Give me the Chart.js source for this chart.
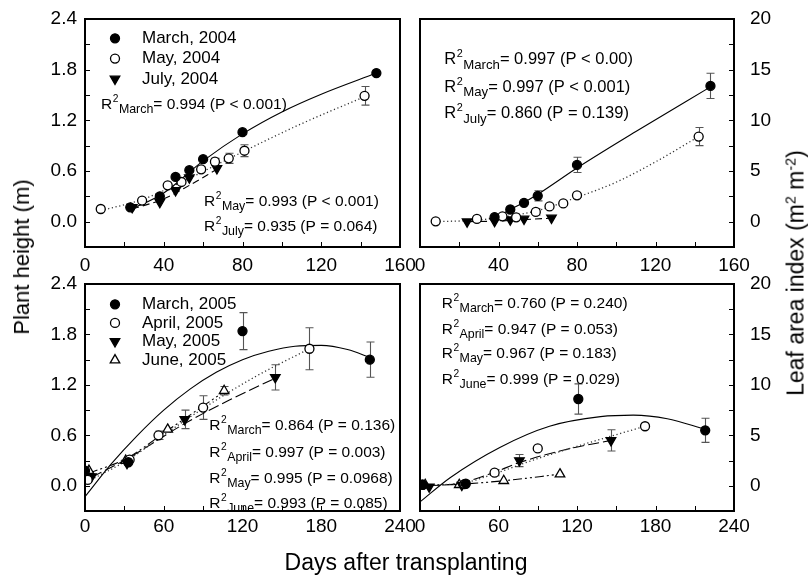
<!DOCTYPE html>
<html>
<head>
<meta charset="utf-8">
<script src="https://cdn.jsdelivr.net/npm/chart.js@4.4.1/dist/chart.umd.min.js"></script>
<style>
  body { margin: 0; background: #fff; }
  #fig { position: relative; width: 808px; height: 581px; overflow: hidden; font-family: 'Liberation Sans', Arial, sans-serif; color: #000; }
  #fig canvas { position: absolute; }
  .ttl { position: absolute; white-space: nowrap; transform: translate(-50%, -50%); }
  .ttl.vert { transform: translate(-50%, -50%) rotate(-90deg); }
  .ttl sup { font-size: 0.62em; vertical-align: 0.55em; line-height: 0; }
</style>
</head>
<body>
<div id="fig">
  <canvas id="h04"></canvas>
  <canvas id="lai04"></canvas>
  <canvas id="h05"></canvas>
  <canvas id="lai05"></canvas>
  <div class="ttl vert" style="left:22px; top:257px; font-size:22px;">Plant height (m)</div>
  <div class="ttl vert" style="left:796px; top:273px; font-size:23px;">Leaf area index (m<sup>2</sup> m<sup>-2</sup>)</div>
  <div class="ttl" style="left:406px; top:562px; font-size:23px;">Days after transplanting</div>
</div>
<script>
const FONT = "'Liberation Sans', Arial, sans-serif";

// axis ticks
const ticksDays04 = [0, 40, 80, 120, 160];
const ticksDays05 = [0, 60, 120, 180, 240];
const ticksHeight = [0, 0.6, 1.2, 1.8, 2.4];
const ticksLai = [0, 5, 10, 15, 20];

// 2004 plant height (m)
const marDays04 = [23, 38, 46, 53, 60, 80, 148];
const marHeight04 = [0.17, 0.30, 0.53, 0.61, 0.74, 1.06, 1.76];
const mayDays04 = [8, 29, 42, 49, 59, 66, 73, 81, 142];
const mayHeight04 = [0.15, 0.25, 0.43, 0.47, 0.62, 0.71, 0.75, 0.84, 1.49];
const mayHeightErr04 = [0, 0, 0, 0, 0.03, 0.04, 0.06, 0.07, 0.11];
const julDays04 = [24, 38, 46, 53, 67];
const julHeight04 = [0.17, 0.23, 0.37, 0.52, 0.63];

// 2004 fitted curves, height
const marFitDays04 = [23, 40, 60, 80, 100, 120, 148];
const marFitHeight04 = [0.14, 0.34, 0.72, 1.04, 1.30, 1.51, 1.76];
const mayFitDays04 = [8, 30, 50, 70, 90, 110, 142];
const mayFitHeight04 = [0.13, 0.27, 0.48, 0.71, 0.94, 1.16, 1.48];
const julFitDays04 = [24, 40, 53, 67];
const julFitHeight04 = [0.15, 0.27, 0.43, 0.62];

// 2004 leaf area index
const marLaiDays04 = [38, 46, 53, 60, 80, 148];
const marLai04 = [0.45, 1.2, 1.86, 2.55, 5.6, 13.4];
const marLaiErr04 = [0, 0, 0, 0.5, 0.75, 1.25];
const mayLaiDays04 = [8, 29, 42, 49, 59, 66, 73, 80, 142];
const mayLai04 = [0.03, 0.27, 0.53, 0.43, 0.96, 1.5, 1.8, 2.6, 8.4];
const mayLaiErr04 = [0, 0, 0, 0, 0.3, 0, 0, 0.2, 0.9];
const julLai04 = [0, 0.05, 0.2, 0.27, 0.37];

// 2004 fitted curves, LAI
const marFitDays04b = [38, 46, 53, 60, 80, 110, 148];
const marFitLai04 = [0.3, 1.2, 1.9, 2.7, 5.3, 8.9, 13.3];
const mayFitDays04b = [8, 29, 42, 60, 80, 100, 120, 142];
const mayFitLai04 = [0, 0.15, 0.45, 1.1, 2.4, 3.9, 5.9, 8.4];
const julFitDays04b = [25, 38, 53, 67];
const julFitLai04 = [0, 0.05, 0.2, 0.35];

// 2005 plant height (m)
const marDays05 = [0, 33, 120, 217];
const marHeight05 = [0.18, 0.28, 1.84, 1.50];
const marHeightErr05 = [0, 0, 0.22, 0.21];
const aprDays05 = [2, 34, 56, 90, 171];
const aprHeight05 = [0.07, 0.31, 0.60, 0.93, 1.63];
const aprHeightErr05 = [0, 0, 0.05, 0.14, 0.25];
const mayDays05 = [5, 32, 76, 145];
const mayHeight05 = [0.11, 0.27, 0.79, 1.29];
const mayHeightErr05 = [0, 0, 0.11, 0.15];
const junDays05 = [3, 31, 63, 106];
const junHeight05 = [0.18, 0.30, 0.67, 1.13];
const junHeightErr05 = [0, 0, 0, 0.05];

// 2005 fitted curves, height
const marFitDays05 = [0, 20, 40, 60, 80, 100, 120, 140, 160, 180, 200, 218];
const marFitHeight05 = [-0.13, 0.26, 0.60, 0.90, 1.15, 1.35, 1.50, 1.60, 1.66, 1.67, 1.62, 1.52];
const aprFitDays05 = [2, 34, 56, 90, 130, 171];
const aprFitHeight05 = [0.05, 0.32, 0.56, 0.92, 1.30, 1.63];
const mayFitDays05 = [5, 32, 76, 110, 145];
const mayFitHeight05 = [0.10, 0.32, 0.74, 1.02, 1.28];
const junFitDays05 = [3, 31, 63, 106];
const junFitHeight05 = [0.15, 0.32, 0.66, 1.12];

// 2005 leaf area index
const marLaiDays05 = [2, 35, 121, 218];
const marLai05 = [0.1, 0.2, 8.6, 5.5];
const marLaiErr05 = [0, 0, 1.5, 1.2];
const aprLaiDays05 = [2, 34, 57, 90, 172];
const aprLai05 = [0.1, 0.17, 1.3, 3.7, 5.9];
const aprLaiErr05 = [0, 0, 0.3, 0, 0];
const mayLaiDays05 = [7, 32, 76, 146];
const mayLai05 = [-0.1, 0.07, 2.5, 4.5];
const mayLaiErr05 = [0, 0, 0.6, 1.05];
const junLaiDays05 = [4, 30, 64, 107];
const junLai05 = [0.1, 0.1, 0.5, 1.15];

// 2005 fitted curves, LAI
const marFitDays05b = [0, 23, 61, 99, 138, 163, 189, 218];
const marFitLai05 = [-1.6, 0.8, 3.8, 5.9, 6.85, 7.0, 6.65, 5.6];
const aprFitDays05b = [2, 34, 57, 90, 130, 172];
const aprFitLai05 = [0.05, 0.3, 1.2, 2.7, 4.3, 5.9];
const mayFitDays05b = [7, 30, 57, 76, 110, 146];
const mayFitLai05 = [0, 0.25, 1.35, 2.3, 3.55, 4.5];
const junFitDays05b = [4, 30, 64, 107];
const junFitLai05 = [0.05, 0.15, 0.5, 1.15];

// marker and line styles
const FILLED_DOT = { shape: 'circle', fill: '#000' };
const OPEN_DOT = { shape: 'circle', fill: '#fff' };
const FILLED_DOWN = { shape: 'triangle', fill: '#000', down: true };
const OPEN_UP = { shape: 'triangle', fill: '#fff' };
const SOLID = [];
const DOTTED = [1.2, 2.6];
const DASHED = [7, 4];
const LONG_DASH = [11, 4];
const DASH_DOT_DOT = [9, 3, 2, 3, 2, 3];

const pts = (xs, ys) => xs.map((x, i) => ({ x, y: ys[i] }));

function marks(xs, ys, style, err) {
  return {
    data: pts(xs, ys),
    showLine: false,
    order: 0,
    pointStyle: style.shape,
    rotation: style.down ? 180 : 0,
    pointRadius: style.shape === 'circle' ? 4.5 : 5.5,
    backgroundColor: style.fill,
    borderColor: '#000',
    pointBorderWidth: 1.3,
    errorBars: err || null,
  };
}

function curve(xs, ys, dash) {
  return {
    data: pts(xs, ys),
    showLine: true,
    pointRadius: 0,
    borderColor: dash === DOTTED ? '#333' : '#000',
    borderWidth: dash === DOTTED ? 1.3 : 1.1,
    borderDash: dash,
    cubicInterpolationMode: 'monotone',
    order: 1,
  };
}

function drawMarker(ctx, style, x, y) {
  ctx.save();
  ctx.lineWidth = 1.3;
  ctx.strokeStyle = '#000';
  ctx.fillStyle = style.fill;
  ctx.beginPath();
  if (style.shape === 'circle') {
    ctx.arc(x, y, 4.5, 0, Math.PI * 2);
  } else {
    const r = 5.5, s = style.down ? -1 : 1;
    ctx.moveTo(x, y - s * r);
    ctx.lineTo(x + r * 0.866, y + s * r * 0.5);
    ctx.lineTo(x - r * 0.866, y + s * r * 0.5);
    ctx.closePath();
  }
  ctx.fill();
  ctx.stroke();
  ctx.restore();
}

// R² label: "R" + superscript 2 + subscript month + rest
function drawR2(ctx, x, yMid, size, sub, rest) {
  const y = yMid + size * 0.36;
  ctx.textBaseline = 'alphabetic';
  ctx.textAlign = 'left';
  ctx.font = `${size}px ${FONT}`;
  ctx.fillText('R', x, y);
  x += ctx.measureText('R').width + 0.5;
  ctx.font = `${size * 0.66}px ${FONT}`;
  ctx.fillText('2', x, y - size * 0.45);
  x += ctx.measureText('2').width + 0.5;
  ctx.font = `${size * 0.8}px ${FONT}`;
  ctx.fillText(sub, x, y + size * 0.27);
  x += ctx.measureText(sub).width;
  ctx.font = `${size}px ${FONT}`;
  ctx.fillText(rest, x, y);
}

const panelDecor = {
  id: 'panelDecor',
  beforeDatasetsDraw(chart) {
    const ctx = chart.ctx, ys = chart.scales.y;
    ctx.save();
    ctx.strokeStyle = '#555';
    ctx.lineWidth = 1.1;
    chart.data.datasets.forEach((ds, di) => {
      if (!ds.errorBars) return;
      const meta = chart.getDatasetMeta(di);
      ds.errorBars.forEach((e, i) => {
        if (!e) return;
        const p = meta.data[i];
        const x = Math.round(p.x) + 0.5;
        const yv = ds.data[i].y;
        const top = ys.getPixelForValue(yv + e), bot = ys.getPixelForValue(yv - e);
        ctx.beginPath();
        ctx.moveTo(x, top); ctx.lineTo(x, bot);
        ctx.moveTo(x - 4, top); ctx.lineTo(x + 4, top);
        ctx.moveTo(x - 4, bot); ctx.lineTo(x + 4, bot);
        ctx.stroke();
      });
    });
    ctx.restore();
  },
  afterDraw(chart, args, opts) {
    const ctx = chart.ctx, ca = chart.chartArea;
    const xs = chart.scales.x, ys = chart.scales.y;
    ctx.save();
    // inward ticks, major and minor
    ctx.strokeStyle = '#000';
    ctx.lineWidth = 1;
    ctx.beginPath();
    const xv = xs.ticks.map(t => t.value), xStep = (xv[1] - xv[0]) / 2;
    for (let v = xv[0] + xStep; v < xv[xv.length - 1] - 1e-9; v += xStep) {
      const px = Math.round(xs.getPixelForValue(v)) + 0.5;
      ctx.moveTo(px, ca.bottom); ctx.lineTo(px, ca.bottom - 5);
    }
    const yv = ys.ticks.map(t => t.value), yStep = (yv[1] - yv[0]) / 2;
    const right = ys.position === 'right';
    for (let v = yv[0] - yStep; v < ys.max - 1e-9; v += yStep) {
      if (v <= ys.min + 1e-9) continue;
      const py = Math.round(ys.getPixelForValue(v)) + 0.5;
      if (right) { ctx.moveTo(ca.right, py); ctx.lineTo(ca.right - 5, py); }
      else { ctx.moveTo(ca.left, py); ctx.lineTo(ca.left + 5, py); }
    }
    ctx.stroke();
    // frame
    ctx.lineWidth = 2;
    ctx.strokeRect(ca.left, ca.top, ca.right - ca.left, ca.bottom - ca.top);
    // legend
    ctx.fillStyle = '#000';
    if (opts.legend) {
      const lg = opts.legend;
      lg.items.forEach((it, i) => {
        const y = ca.top + lg.y0 + i * lg.dy;
        drawMarker(ctx, it.style, ca.left + 30, y);
        ctx.font = `17px ${FONT}`;
        ctx.textBaseline = 'middle';
        ctx.textAlign = 'left';
        ctx.fillStyle = '#000';
        ctx.fillText(it.label, ca.left + 57, y);
      });
    }
    // fit statistics
    (opts.notes || []).forEach(n => drawR2(ctx, ca.left + n.x, ca.top + n.y, opts.noteSize, n.sub, n.text));
    ctx.restore();
  },
};

function panel(id, cfg) {
  const el = document.getElementById(id);
  el.width = cfg.w;
  el.height = cfg.h;
  el.style.left = cfg.left + 'px';
  el.style.top = cfg.top + 'px';
  const tickFont = { family: FONT, size: 19 };
  return new Chart(el, {
    type: 'scatter',
    data: { datasets: cfg.datasets },
    options: {
      responsive: false,
      animation: false,
      events: [],
      layout: { padding: cfg.pad },
      plugins: {
        legend: { display: false },
        tooltip: { enabled: false },
        panelDecor: { legend: cfg.legend, notes: cfg.notes, noteSize: cfg.noteSize },
      },
      scales: {
        x: {
          type: 'linear',
          min: cfg.xTicks[0],
          max: cfg.xTicks[cfg.xTicks.length - 1],
          grid: { display: false, drawTicks: false },
          border: { display: false },
          afterBuildTicks: s => { s.ticks = cfg.xTicks.map(v => ({ value: v })); },
          afterFit: s => { s.height = cfg.xh; s.paddingLeft = 0; s.paddingRight = 0; },
          ticks: { font: tickFont, color: '#000', padding: cfg.xPad, maxRotation: 0, autoSkip: false, callback: v => String(v) },
        },
        y: {
          type: 'linear',
          position: cfg.yPos,
          min: cfg.yMin,
          max: cfg.yTicks[cfg.yTicks.length - 1],
          grid: { display: false, drawTicks: false },
          border: { display: false },
          afterBuildTicks: s => { s.ticks = cfg.yTicks.map(v => ({ value: v })); },
          afterFit: s => { s.width = cfg.yw; s.paddingTop = 0; s.paddingBottom = 0; },
          ticks: { font: tickFont, color: '#000', padding: cfg.yPad, autoSkip: false, callback: cfg.yFmt },
        },
      },
    },
    plugins: [panelDecor],
  });
}

const fmtHeight = v => v.toFixed(1);
const fmtLai = v => String(v);

panel('h04', {
  left: 0, top: 0, w: 420, h: 290, pad: { top: 19, right: 20, left: 0, bottom: 0 },
  xh: 43, xPad: 7, yw: 85, yPad: 8, yPos: 'left', yMin: -0.3,
  xTicks: ticksDays04, yTicks: ticksHeight, yFmt: fmtHeight,
  datasets: [
    marks(marDays04, marHeight04, FILLED_DOT),
    marks(mayDays04, mayHeight04, OPEN_DOT, mayHeightErr04),
    marks(julDays04, julHeight04, FILLED_DOWN),
    curve(marFitDays04, marFitHeight04, SOLID),
    curve(mayFitDays04, mayFitHeight04, DOTTED),
    curve(julFitDays04, julFitHeight04, DASHED),
  ],
  legend: { y0: 19.3, dy: 20.3, items: [
    { label: 'March, 2004', style: FILLED_DOT },
    { label: 'May, 2004', style: OPEN_DOT },
    { label: 'July, 2004', style: FILLED_DOWN },
  ] },
  noteSize: 15.5,
  notes: [
    { x: 16, y: 84.3, sub: 'March', text: '= 0.994 (P < 0.001)' },
    { x: 119, y: 181, sub: 'May', text: '= 0.993 (P < 0.001)' },
    { x: 119, y: 206.3, sub: 'July', text: '= 0.935 (P = 0.064)' },
  ],
});

panel('lai04', {
  left: 400, top: 0, w: 408, h: 290, pad: { top: 19, right: 0, left: 20, bottom: 0 },
  xh: 43, xPad: 7, yw: 74, yPad: 16, yPos: 'right', yMin: -2.5,
  xTicks: ticksDays04, yTicks: ticksLai, yFmt: fmtLai,
  datasets: [
    marks(marLaiDays04, marLai04, FILLED_DOT, marLaiErr04),
    marks(mayLaiDays04, mayLai04, OPEN_DOT, mayLaiErr04),
    marks(julDays04, julLai04, FILLED_DOWN),
    curve(marFitDays04b, marFitLai04, SOLID),
    curve(mayFitDays04b, mayFitLai04, DOTTED),
    curve(julFitDays04b, julFitLai04, DASHED),
  ],
  noteSize: 16.5,
  notes: [
    { x: 24.3, y: 39.3, sub: 'March', text: '= 0.997 (P < 0.00)' },
    { x: 24.3, y: 67, sub: 'May', text: '= 0.997 (P < 0.001)' },
    { x: 24.3, y: 93.5, sub: 'July', text: '= 0.860 (P = 0.139)' },
  ],
});

panel('h05', {
  left: 0, top: 265, w: 420, h: 316, pad: { top: 19, right: 20, left: 0, bottom: 0 },
  xh: 70, xPad: 4, yw: 85, yPad: 8, yPos: 'left', yMin: -0.3,
  xTicks: ticksDays05, yTicks: ticksHeight, yFmt: fmtHeight,
  datasets: [
    marks(marDays05, marHeight05, FILLED_DOT, marHeightErr05),
    marks(aprDays05, aprHeight05, OPEN_DOT, aprHeightErr05),
    marks(mayDays05, mayHeight05, FILLED_DOWN, mayHeightErr05),
    marks(junDays05, junHeight05, OPEN_UP, junHeightErr05),
    curve(marFitDays05, marFitHeight05, SOLID),
    curve(aprFitDays05, aprFitHeight05, DOTTED),
    curve(mayFitDays05, mayFitHeight05, LONG_DASH),
    curve(junFitDays05, junFitHeight05, DASH_DOT_DOT),
  ],
  legend: { y0: 20.3, dy: 18.6, items: [
    { label: 'March, 2005', style: FILLED_DOT },
    { label: 'April, 2005', style: OPEN_DOT },
    { label: 'May, 2005', style: FILLED_DOWN },
    { label: 'June, 2005', style: OPEN_UP },
  ] },
  noteSize: 15.5,
  notes: [
    { x: 124.3, y: 140.7, sub: 'March', text: '= 0.864 (P = 0.136)' },
    { x: 124.3, y: 167.3, sub: 'April', text: '= 0.997 (P = 0.003)' },
    { x: 124.3, y: 193.3, sub: 'May', text: '= 0.995 (P = 0.0968)' },
    { x: 124.3, y: 218.7, sub: 'June', text: '= 0.993 (P = 0.085)' },
  ],
});

panel('lai05', {
  left: 400, top: 265, w: 408, h: 316, pad: { top: 19, right: 0, left: 20, bottom: 0 },
  xh: 70, xPad: 4, yw: 74, yPad: 16, yPos: 'right', yMin: -2.5,
  xTicks: ticksDays05, yTicks: ticksLai, yFmt: fmtLai,
  datasets: [
    marks(marLaiDays05, marLai05, FILLED_DOT, marLaiErr05),
    marks(aprLaiDays05, aprLai05, OPEN_DOT, aprLaiErr05),
    marks(mayLaiDays05, mayLai05, FILLED_DOWN, mayLaiErr05),
    marks(junLaiDays05, junLai05, OPEN_UP),
    curve(marFitDays05b, marFitLai05, SOLID),
    curve(aprFitDays05b, aprFitLai05, DOTTED),
    curve(mayFitDays05b, mayFitLai05, LONG_DASH),
    curve(junFitDays05b, junFitLai05, DASH_DOT_DOT),
  ],
  noteSize: 15.5,
  notes: [
    { x: 21.7, y: 18.7, sub: 'March', text: '= 0.760 (P = 0.240)' },
    { x: 21.7, y: 44, sub: 'April', text: '= 0.947 (P = 0.053)' },
    { x: 21.7, y: 68.7, sub: 'May', text: '= 0.967 (P = 0.183)' },
    { x: 21.7, y: 94, sub: 'June', text: '= 0.999 (P = 0.029)' },
  ],
});
</script>
</body>
</html>
